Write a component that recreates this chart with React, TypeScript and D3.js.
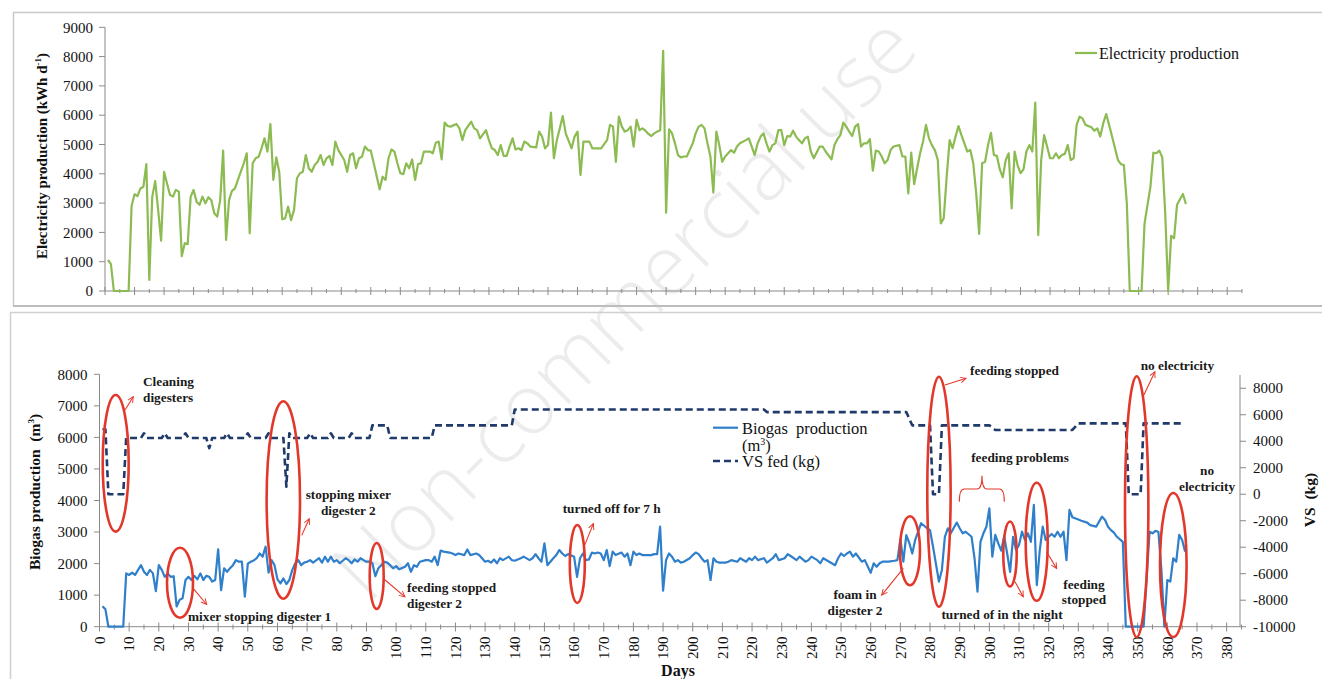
import React from "react";
import * as d3 from "d3";

// ---------- DATA ----------
// Electricity production (kWh d-1): [day, value]
const electricity: [number, number][] = [
  [1,1060],[2,920],[3,0],[8,0],[9,2900],[10,3300],[11,3240],[12,3500],[13,3560],[14,4330],[15,375],[16,3220],[17,3750],[18,2760],[19,1720],[20,4070],[21,3670],[22,3280],[23,3220],[24,3450],[25,3390],[26,1190],[27,1630],[28,1600],[29,3220],[30,3450],[31,3050],[32,2940],[33,3220],[34,2990],[35,3200],[36,3100],[37,2650],[38,2540],[39,3100],[40,4790],[41,1740],[42,3100],[43,3420],[44,3500],[45,3790],[47,4360],[48,4700],[49,1970],[50,4360],[51,4530],[52,4580],[53,4870],[54,5210],[55,4760],[56,5700],[57,3790],[58,4560],[59,4070],[60,2450],[61,2480],[62,2880],[63,2420],[64,2760],[65,3850],[66,4020],[67,4070],[68,4640],[69,4190],[70,4070],[71,4300],[72,4410],[73,4640],[74,4300],[75,4530],[76,4610],[77,4300],[78,5100],[79,4810],[80,4640],[81,4470],[82,4070],[83,4640],[84,4700],[85,4190],[86,4530],[87,4580],[88,4930],[89,4810],[90,4790],[91,4360],[93,3470],[94,3900],[95,3790],[96,4530],[97,4830],[98,4760],[99,4360],[100,4020],[101,3990],[102,4360],[103,4190],[104,4490],[105,3790],[106,4330],[107,4360],[108,4760],[109,4760],[110,4760],[111,4700],[112,5060],[113,5100],[114,4490],[115,5750],[116,5630],[117,5610],[119,5700],[120,5550],[121,5150],[122,5490],[124,5780],[125,5550],[126,5490],[127,5210],[129,5490],[130,5150],[131,4870],[132,4810],[133,4640],[134,4980],[135,4610],[136,4610],[137,4930],[138,5210],[139,4830],[140,4870],[141,4810],[142,5100],[143,5040],[144,4930],[146,4900],[147,5440],[148,5270],[149,4870],[150,4980],[151,6090],[152,4530],[153,5150],[154,5550],[155,5970],[156,5380],[158,4870],[159,5270],[160,5440],[161,3960],[162,5100],[163,5100],[164,5100],[165,4870],[168,4870],[170,5150],[171,5670],[172,5610],[173,4410],[174,5950],[175,5610],[176,5440],[177,5490],[178,5610],[179,4930],[180,5840],[181,5490],[182,5550],[183,5470],[184,5360],[185,5290],[186,5380],[187,5440],[188,5490],[189,8200],[190,2670],[191,5520],[192,5380],[193,5040],[194,4640],[195,4560],[196,4590],[197,4590],[199,5040],[200,5380],[201,5610],[202,5670],[203,5550],[204,5040],[205,4590],[206,3360],[207,5440],[208,4980],[209,4410],[210,4590],[211,4700],[212,4810],[213,4720],[214,4930],[215,5040],[217,5150],[218,5210],[219,4930],[220,4640],[221,5040],[222,5270],[223,5380],[224,5040],[225,4760],[226,4980],[227,5040],[228,5490],[229,5490],[230,4980],[231,5290],[232,5270],[233,5470],[234,5270],[235,5150],[236,5040],[237,5210],[238,5270],[239,4760],[240,4530],[242,4930],[243,4930],[244,4760],[246,4490],[247,4980],[248,5180],[249,5320],[250,5750],[251,5610],[252,5440],[253,5290],[254,5610],[255,5700],[256,4930],[257,5040],[258,5040],[259,5180],[260,4110],[261,4790],[262,4760],[263,4590],[264,4360],[265,4470],[266,4810],[267,4930],[269,4980],[270,4590],[271,4590],[272,3330],[273,4720],[274,3650],[275,4190],[276,4700],[277,5100],[278,5670],[279,5210],[280,4980],[281,4810],[282,4470],[283,2310],[284,2480],[285,3900],[286,5150],[287,4870],[288,5270],[289,5630],[290,5320],[291,5040],[292,4760],[293,4810],[294,4360],[295,3330],[296,1950],[297,4360],[298,4410],[299,4980],[300,5400],[301,4640],[302,4610],[303,4150],[304,3880],[305,4470],[306,4700],[307,2820],[308,4760],[309,4300],[310,4020],[311,4150],[312,4760],[313,4980],[314,4760],[315,6430],[316,1910],[317,4470],[318,5320],[319,4930],[320,4530],[321,4530],[322,4700],[323,4530],[324,4640],[325,4680],[326,4980],[327,4470],[328,4530],[329,5670],[330,5950],[331,5890],[332,5670],[334,5590],[335,5470],[336,5550],[337,5270],[338,5720],[339,6040],[340,5670],[341,5270],[342,4870],[343,4470],[344,4330],[345,4300],[346,2990],[347,0],[351,0],[352,2310],[354,3560],[355,4720],[356,4700],[357,4790],[358,4560],[359,2650],[360,0],[361,1880],[362,1800],[363,2940],[364,3130],[365,3310],[366,2970]
];

// Biogas production (m3): [day, value]
const biogas: [number, number][] = [
  [1,650],[2,550],[3,0],[8,0],[9,1690],[10,1640],[11,1710],[12,1640],[13,1800],[14,1950],[15,1740],[16,1640],[17,1800],[18,1690],[19,1130],[20,1950],[21,1800],[22,1580],[23,1690],[24,1580],[25,1600],[26,640],[27,850],[28,900],[29,1480],[30,1580],[31,1480],[32,1610],[33,1500],[34,1690],[35,1480],[36,1610],[37,1580],[38,1430],[39,1480],[40,2450],[41,1160],[42,1850],[43,1740],[44,1850],[45,1950],[46,2110],[47,2060],[48,2060],[49,950],[50,2000],[51,2060],[52,2100],[53,2170],[54,2320],[55,2220],[56,2540],[57,1710],[58,2110],[59,1950],[60,1500],[61,1370],[62,1530],[63,1350],[64,1480],[65,1800],[66,2010],[67,2110],[68,1950],[69,2030],[70,2060],[71,2110],[72,2030],[74,2170],[75,2030],[76,2220],[77,2060],[78,2220],[79,2060],[80,2110],[81,2010],[83,2170],[84,2110],[85,2010],[86,2130],[87,2060],[88,2170],[89,2110],[90,2060],[91,2060],[92,2010],[93,1600],[94,1850],[95,1950],[96,2060],[97,2030],[98,1950],[99,1850],[100,1920],[101,1820],[103,1900],[104,2010],[105,1740],[106,1950],[107,1900],[108,2060],[110,2110],[111,2110],[112,2060],[113,2220],[114,1950],[115,2410],[116,2380],[118,2350],[119,2320],[120,2270],[121,2320],[123,2270],[124,2450],[125,2270],[127,2320],[128,2270],[130,2060],[131,2090],[132,2030],[133,2130],[134,2010],[135,2170],[136,2110],[138,2220],[139,2110],[140,2090],[141,2130],[142,2170],[143,2220],[145,2110],[146,2170],[147,2300],[148,2170],[149,2060],[150,2640],[151,1950],[153,2170],[154,2270],[155,2430],[156,2320],[157,2240],[158,2300],[160,2220],[161,1580],[162,2170],[163,2320],[164,2110],[165,2130],[166,2350],[167,2320],[168,2350],[169,2320],[170,2110],[171,2430],[172,1920],[173,2380],[174,2270],[176,2350],[177,2220],[178,2320],[179,1950],[180,2380],[181,2270],[182,2320],[183,2270],[184,2270],[186,2270],[187,2300],[188,2300],[189,3170],[190,1140],[191,2110],[192,2320],[193,2220],[194,2060],[195,2110],[196,2030],[197,2060],[199,2170],[200,2270],[201,2350],[202,2300],[203,2170],[204,2060],[205,2110],[206,1480],[207,2170],[208,2060],[209,2030],[211,2030],[212,2060],[213,2110],[215,2060],[216,2170],[218,2060],[219,2170],[220,2110],[221,2220],[222,2110],[224,2170],[225,2030],[227,2170],[228,2300],[229,2110],[231,2170],[232,2300],[233,2240],[235,2110],[236,2220],[238,2060],[239,2110],[240,2220],[242,2110],[243,2010],[244,2170],[246,2060],[248,1950],[249,2170],[250,2320],[251,2240],[252,2320],[253,2380],[254,2220],[255,2320],[257,2060],[258,2110],[260,1710],[261,2010],[262,1900],[263,2010],[264,2060],[266,2060],[268,2090],[269,2110],[270,2770],[271,2060],[272,2900],[273,2660],[274,2320],[275,2750],[276,3010],[277,3280],[279,3120],[280,3060],[281,2540],[283,1430],[284,1800],[285,2850],[286,3120],[287,2960],[289,3300],[290,3120],[291,2960],[292,3010],[294,2850],[295,2170],[296,1110],[297,2690],[298,2960],[299,3170],[300,3750],[301,2220],[302,2910],[303,2640],[304,2410],[305,2870],[306,2320],[307,1740],[308,2850],[309,2430],[310,2590],[311,3010],[312,2750],[313,2960],[314,2690],[315,3860],[316,1320],[317,2430],[318,3170],[319,2750],[320,2850],[321,2940],[322,2850],[323,3010],[324,2850],[325,3010],[326,2110],[327,3700],[328,3470],[330,3400],[331,3360],[333,3300],[334,3220],[336,3170],[337,3330],[338,3490],[339,3380],[340,3170],[341,3060],[342,2980],[343,2850],[345,2690],[346,0],[352,0],[354,3010],[355,2960],[356,3040],[357,3000],[358,1800],[359,0],[360,1480],[361,1430],[362,2170],[363,2060],[364,2910],[365,2750],[366,2380]
];

// VS fed (kg), right axis: [day, value]
const vsFed: [number, number][] = [
  [1,4900],[2,4900],[3,0],[8,0],[9,4250],[14,4250],[15,4600],[16,4250],[21,4250],[22,4600],[23,4250],[28,4250],[29,4600],[30,4250],[36,4250],[37,3470],[38,4250],[42,4250],[43,4600],[44,4250],[49,4250],[50,4600],[51,4250],[56,4250],[57,4600],[58,4250],[62,4250],[63,570],[64,4600],[65,4250],[70,4250],[71,4600],[72,4250],[77,4250],[78,4600],[79,4250],[84,4250],[85,4600],[86,4250],[91,4250],[92,5200],[97,5200],[98,4250],[112,4250],[113,5200],[139,5200],[140,6400],[224,6400],[225,6200],[272,6200],[274,5200],[280,5200],[281,0],[283,0],[284,5200],[300,5200],[302,4850],[328,4850],[330,5350],[346,5350],[347,0],[351,0],[352,5350],[365,5350]
];

const topYTicks = [0, 1000, 2000, 3000, 4000, 5000, 6000, 7000, 8000, 9000];
const leftYTicks = [0, 1000, 2000, 3000, 4000, 5000, 6000, 7000, 8000];
const rightYTicks = [-10000, -8000, -6000, -4000, -2000, 0, 2000, 4000, 6000, 8000];
const dayTicks = [0,10,20,30,40,50,60,70,80,90,100,110,120,130,140,150,160,170,180,190,200,210,220,230,240,250,260,270,280,290,300,310,320,330,340,350,360,370,380];

// Annotations (in data units: day / biogas m3)
type Ann = {
  lines: string[];
  ex: number; ey: number; erx: number; ery: number; ellipse: boolean;
  arrow: number[] | null;
  tx: number; ty: number; anchor: "start" | "middle";
};
const annotations: Ann[] = [
  { lines: ["Cleaning", "digesters"], ex: 5.46, ey: 5179, erx: 4.38, ery: 2165, ellipse: true, arrow: [8.59, 6868, 11.38, 7290], tx: 14.67, ty: 7756, anchor: "start" },
  { lines: ["mixer stopping digester 1"], ex: 27.14, ey: 1395, erx: 4.38, ery: 1109, ellipse: true, arrow: [31.52, 1220, 36.14, 703], tx: 29.84, ty: 317, anchor: "start" },
  { lines: ["stopping mixer", "digester 2"], ex: 61.97, ey: 4016, erx: 5.63, ery: 3132, ellipse: true, arrow: [68.17, 2894, 70.72, 3423], tx: 83.88, ty: 4174, anchor: "middle" },
  { lines: ["feeding stopped", "digester 2"], ex: 93.45, ey: 1607, erx: 2.36, ery: 1046, ellipse: true, arrow: [95.68, 1527, 102.99, 944], tx: 103.67, ty: 1227, anchor: "start" },
  { lines: ["turned off for 7 h"], ex: 161.08, ey: 1987, erx: 2.53, ery: 1236, ellipse: true, arrow: [163.1, 2476, 166.5, 3268], tx: 172.68, ty: 3753, anchor: "middle" },
  { lines: ["foam in", "digester 2"], ex: 273.24, ey: 2409, erx: 3.37, ery: 1093, ellipse: true, arrow: [271.0, 1848, 263.7, 1002], tx: 254.7, ty: 1005, anchor: "middle" },
  { lines: ["feeding stopped"], ex: 283.01, ey: 4279, erx: 3.94, ery: 3645, ellipse: true, arrow: [285.05, 7661, 292.13, 7873], tx: 293.47, ty: 8105, anchor: "start" },
  { lines: ["feeding problems"], ex: 0, ey: 0, erx: 0, ery: 0, ellipse: false, arrow: null, tx: 310.33, ty: 5347, anchor: "middle" },
  { lines: ["turned of in the night"], ex: 306.96, ey: 2304, erx: 2.26, ery: 1030, ellipse: true, arrow: [308.64, 1426, 311.44, 951], tx: 304.26, ty: 371, anchor: "middle" },
  { lines: ["feeding", "stopped"], ex: 315.96, ey: 2694, erx: 3.71, ery: 1870, ellipse: true, arrow: [319.3, 2372, 322.7, 1845], tx: 331.9, ty: 1338, anchor: "middle" },
  { lines: ["no electricity"], ex: 349.67, ey: 3803, erx: 3.94, ery: 4136, ellipse: true, arrow: [352.1, 7344, 355.8, 8082], tx: 363.4, ty: 8263, anchor: "middle" },
  { lines: ["no", "electricity"], ex: 362.01, ey: 1956, erx: 4.48, ery: 2282, ellipse: true, arrow: null, tx: 373.4, ty: 4935, anchor: "middle" },
];
// "feeding problems" brace: [leftDay, midDay, rightDay, endValue, barValue, notchValue]
const brace = [289.87, 297.52, 305.04, 3962, 4365, 4786];

// ---------- STYLE ----------
const SERIF = "'Liberation Serif', 'Times New Roman', serif";
const GREEN = "#8cbb52";
const BLUE = "#2f7fca";
const NAVY = "#1f3a6b";
const RED = "#e2382b";
const AXIS = "#8a8a8a";

export default function App() {
  const xTop = d3.scaleLinear().domain([0, 385]).range([105, 1242]);
  const yTop = d3.scaleLinear().domain([0, 9000]).range([291, 27.3]);
  const xBot = d3.scaleLinear().domain([0, 384.5]).range([99.5, 1240]);
  const yLeft = d3.scaleLinear().domain([0, 8000]).range([626.7, 374.3]);
  const yRight = d3.scaleLinear().domain([-10000, 9000]).range([626.7, 375]);

  const elecPath = d3.line<[number, number]>().x(d => xTop(d[0])).y(d => yTop(d[1]))(electricity) || "";
  const bioPath = d3.line<[number, number]>().x(d => xBot(d[0])).y(d => yLeft(d[1]))(biogas) || "";
  const vsPath = d3.line<[number, number]>().x(d => xBot(d[0])).y(d => yRight(d[1]))(vsFed) || "";

  const minorTicks = dayTicks.map(d => d + 5);

  const bx1 = xBot(brace[0]), bxm = xBot(brace[1]), bx2 = xBot(brace[2]);
  const byEnd = yLeft(brace[3]), byBar = yLeft(brace[4]), byNotch = yLeft(brace[5]);
  const bracePath = `M${bx1},${byEnd} Q${bx1},${byBar} ${bx1 + 5},${byBar} L${bxm - 5},${byBar} Q${bxm},${byBar} ${bxm},${byNotch} Q${bxm},${byBar} ${bxm + 5},${byBar} L${bx2 - 5},${byBar} Q${bx2},${byBar} ${bx2},${byEnd}`;

  return (
    <svg width={1322} height={679} style={{ position: "absolute", left: 0, top: 0, display: "block", background: "#fff" }} fontFamily={SERIF}>
      <defs>
        <marker id="arr" viewBox="0 0 8 8" refX="7" refY="4" markerWidth="7" markerHeight="7" orient="auto" markerUnits="userSpaceOnUse">
          <path d="M0.5,0.8 L7,4 L0.5,7.2" fill="none" stroke={RED} strokeWidth={1.1} />
        </marker>
      </defs>
      <rect x={0} y={0} width={1322} height={679} fill="#fff" />

      {/* watermark */}
      <text x={622} y={305} transform="rotate(-45 622 305)" textAnchor="middle" dominantBaseline="central"
        fontFamily="'Open Sans', 'Liberation Sans', sans-serif" fontWeight={300} fontSize={84} fill="#000" fillOpacity={0.075}>
        Non-commercial use
      </text>

      {/* panel frames */}
      <path d="M13.5,306 L13.5,12.5 L1322,12.5" fill="none" stroke="#c9c9c9" strokeWidth={1.5} />
      <line x1={13} x2={1322} y1={306} y2={306} stroke="#bdbdbd" strokeWidth={2} />
      <path d="M10.5,679 L10.5,312.5 L1322,312.5" fill="none" stroke="#d0d0d0" strokeWidth={1.5} />

      {/* ===== TOP CHART ===== */}
      <line x1={105} x2={105} y1={yTop(9000)} y2={291} stroke={AXIS} strokeWidth={1} />
      <line x1={105} x2={1242} y1={291} y2={291} stroke={AXIS} strokeWidth={1} />
      {topYTicks.map(t => (
        <g key={"ty" + t}>
          <line x1={99} x2={105} y1={yTop(t)} y2={yTop(t)} stroke={AXIS} />
          <text x={93} y={yTop(t)} dy="0.35em" textAnchor="end" fontSize={15} fill="#111">{t}</text>
        </g>
      ))}
      {dayTicks.map(t => (
        <line key={"tx" + t} x1={xTop(t)} x2={xTop(t)} y1={287} y2={295} stroke={AXIS} />
      ))}
      {minorTicks.map(t => (
        <line key={"tm" + t} x1={xTop(t)} x2={xTop(t)} y1={289} y2={293} stroke={AXIS} />
      ))}
      <text transform="translate(47,156) rotate(-90)" textAnchor="middle" fontSize={15} fontWeight="bold" fill="#111">
        Electricity production (kWh d<tspan fontSize={9} dy={-6}>-1</tspan><tspan dy={6}>)</tspan>
      </text>
      <path d={elecPath} fill="none" stroke={GREEN} strokeWidth={2.2} strokeLinejoin="round" />
      {/* legend top */}
      <line x1={1075} x2={1097} y1={53} y2={53} stroke={GREEN} strokeWidth={2.2} />
      <text x={1099} y={58.5} fontSize={16} fill="#111">Electricity production</text>

      {/* ===== BOTTOM CHART ===== */}
      <line x1={99.5} x2={99.5} y1={yLeft(8000)} y2={626.7} stroke={AXIS} />
      <line x1={1240} x2={1240} y1={375} y2={626.7} stroke={AXIS} />
      <line x1={99.5} x2={1240} y1={626.7} y2={626.7} stroke={AXIS} />
      {leftYTicks.map(t => (
        <g key={"ly" + t}>
          <line x1={94} x2={99.5} y1={yLeft(t)} y2={yLeft(t)} stroke={AXIS} />
          <text x={87.5} y={yLeft(t)} dy="0.35em" textAnchor="end" fontSize={15} fill="#111">{t}</text>
        </g>
      ))}
      {rightYTicks.map(t => (
        <g key={"ry" + t}>
          <line x1={1240} x2={1246} y1={yRight(t)} y2={yRight(t)} stroke={AXIS} />
          <text x={1253} y={yRight(t)} dy="0.35em" textAnchor="start" fontSize={15} fill="#111">{t}</text>
        </g>
      ))}
      {dayTicks.map(t => (
        <g key={"bx" + t}>
          <line x1={xBot(t)} x2={xBot(t)} y1={622.5} y2={631.5} stroke={AXIS} />
          <text transform={`translate(${xBot(t)},636.5) rotate(-90)`} dy="0.35em" textAnchor="end" fontSize={15} fill="#111">{t}</text>
        </g>
      ))}
      {minorTicks.map(t => (
        <line key={"bm" + t} x1={xBot(t)} x2={xBot(t)} y1={624.5} y2={629.5} stroke={AXIS} />
      ))}
      <text x={678} y={676} textAnchor="middle" fontSize={16} fontWeight="bold" fill="#111">Days</text>
      <text transform="translate(40,492) rotate(-90)" textAnchor="middle" fontSize={15.5} fontWeight="bold" fill="#111" style={{ whiteSpace: "pre" }}>
        Biogas production  (m<tspan fontSize={9} dy={-6}>3</tspan><tspan dy={6}>)</tspan>
      </text>
      <text transform="translate(1315,500) rotate(-90)" textAnchor="middle" fontSize={15.5} fontWeight="bold" fill="#111" style={{ whiteSpace: "pre" }}>
        VS  (kg)
      </text>

      <path d={vsPath} fill="none" stroke={NAVY} strokeWidth={2.6} strokeDasharray="7,4" strokeLinejoin="round" />
      <path d={bioPath} fill="none" stroke={BLUE} strokeWidth={2.2} strokeLinejoin="round" />

      {/* legend bottom */}
      <line x1={713} x2={738} y1={427.7} y2={427.7} stroke={BLUE} strokeWidth={2.2} />
      <text x={742} y={433.5} fontSize={16.5} fill="#111" style={{ whiteSpace: "pre" }}>Biogas  production</text>
      <text x={742} y={450.5} fontSize={16.5} fill="#111">(m<tspan fontSize={10} dy={-6}>3</tspan><tspan dy={6}>)</tspan></text>
      <line x1={713} x2={738} y1={461} y2={461} stroke={NAVY} strokeWidth={2.6} strokeDasharray="7,4" />
      <text x={742} y={466.5} fontSize={16.5} fill="#111">VS fed (kg)</text>

      {/* annotations */}
      {annotations.map((a, i) => (
        <g key={"an" + i}>
          {a.ellipse && (
            <ellipse cx={xBot(a.ex)} cy={yLeft(a.ey)} rx={xBot(a.ex + a.erx) - xBot(a.ex)} ry={yLeft(0) - yLeft(a.ery)}
              fill="none" stroke={RED} strokeWidth={2.6} />
          )}
          {a.arrow && (
            <line x1={xBot(a.arrow[0])} y1={yLeft(a.arrow[1])} x2={xBot(a.arrow[2])} y2={yLeft(a.arrow[3])}
              stroke={RED} strokeWidth={1.1} markerEnd="url(#arr)" />
          )}
          {a.lines.map((ln, j) => (
            <text key={j} x={xBot(a.tx)} y={yLeft(a.ty) + j * 15.5} dy="0.33em" textAnchor={a.anchor}
              fontSize={13.3} fontWeight="bold" fill="#1a1a1a">{ln}</text>
          ))}
        </g>
      ))}
      <path d={bracePath} fill="none" stroke={RED} strokeWidth={1.1} />
    </svg>
  );
}
